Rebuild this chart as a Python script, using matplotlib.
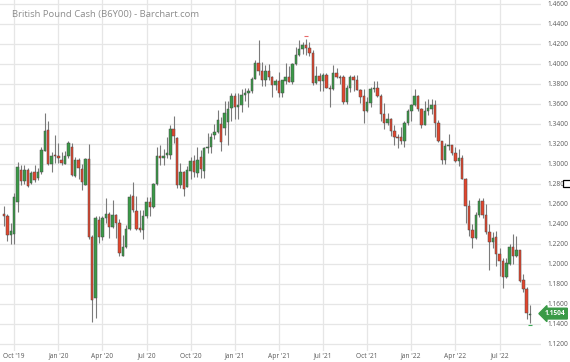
import matplotlib
matplotlib.use("Agg")
import matplotlib.pyplot as plt
import matplotlib.transforms as mtransforms
from matplotlib.patches import Rectangle
import pandas as pd

# ---------------- data (weekly OHLC, week of 2019-09-16 .. 2022-09-05) ----------------
opens = [1.2500, 1.2475, 1.2290, 1.2300, 1.2620, 1.2935, 1.2830, 1.2935, 1.2805, 1.2920,
         1.2855, 1.2915, 1.3135, 1.3340, 1.3000, 1.3085, 1.3080, 1.3035, 1.3000, 1.3075,
         1.3175, 1.2880, 1.3040, 1.2950, 1.2790, 1.3047, 1.2273, 1.1657, 1.2440, 1.2273,
         1.2457, 1.2497, 1.2373, 1.2490, 1.2407, 1.2080, 1.2173, 1.2350, 1.2680, 1.2530,
         1.2357, 1.2340, 1.2480, 1.2623, 1.2573, 1.2800, 1.3080, 1.3057, 1.3090, 1.3090,
         1.3347, 1.3257, 1.2790, 1.2923, 1.2773, 1.2933, 1.3030, 1.2913, 1.3067, 1.2933,
         1.3157, 1.3173, 1.3285, 1.3323, 1.3400, 1.3357, 1.3423, 1.3560, 1.3675, 1.3565,
         1.3590, 1.3685, 1.3705, 1.3730, 1.3850, 1.4010, 1.3925, 1.3840, 1.3925, 1.3865,
         1.3790, 1.3830, 1.3705, 1.3835, 1.3870, 1.3820, 1.3995, 1.4090, 1.4150, 1.4190,
         1.4160, 1.4110, 1.3805, 1.3880, 1.3830, 1.3890, 1.3760, 1.3755, 1.3905, 1.3870,
         1.3865, 1.3620, 1.3760, 1.3870, 1.3840, 1.3740, 1.3675, 1.3530, 1.3615, 1.3745,
         1.3760, 1.3680, 1.3500, 1.3410, 1.3450, 1.3335, 1.3270, 1.3265, 1.3235, 1.3405,
         1.3530, 1.3590, 1.3680, 1.3550, 1.3395, 1.3530, 1.3555, 1.3590, 1.3410, 1.3230,
         1.3040, 1.3180, 1.3185, 1.3110, 1.3030, 1.3060, 1.2850, 1.2575, 1.2340, 1.2255,
         1.2490, 1.2625, 1.2490, 1.2315, 1.2225, 1.2265, 1.2095, 1.2030, 1.1870, 1.2005,
         1.2165, 1.2075, 1.2135, 1.1840, 1.1750, 1.1490]
highs = [1.2582, 1.2500, 1.2410, 1.2710, 1.3015, 1.2990, 1.2990, 1.2955, 1.2925, 1.2985,
         1.2955, 1.3175, 1.3515, 1.3425, 1.3120, 1.3290, 1.3205, 1.3120, 1.3125, 1.3225,
         1.3210, 1.3070, 1.3060, 1.3000, 1.3060, 1.3200, 1.2290, 1.2480, 1.2480, 1.2485,
         1.2657, 1.2520, 1.2645, 1.2500, 1.2450, 1.2290, 1.2390, 1.2695, 1.2815, 1.2685,
         1.2545, 1.2545, 1.2670, 1.2670, 1.2805, 1.3170, 1.3185, 1.3145, 1.3265, 1.3395,
         1.3480, 1.3270, 1.3010, 1.2925, 1.2980, 1.3065, 1.3085, 1.3175, 1.3140, 1.3175,
         1.3310, 1.3310, 1.3400, 1.3540, 1.3470, 1.3625, 1.3625, 1.3705, 1.3705, 1.3710,
         1.3745, 1.3760, 1.3760, 1.3865, 1.4035, 1.4240, 1.4015, 1.3990, 1.4000, 1.3880,
         1.3850, 1.3920, 1.3840, 1.4010, 1.3980, 1.4005, 1.4165, 1.4235, 1.4220, 1.4250,
         1.4220, 1.4135, 1.3975, 1.3910, 1.3910, 1.3910, 1.3790, 1.3985, 1.3960, 1.3890,
         1.3890, 1.3790, 1.3890, 1.3890, 1.3890, 1.3750, 1.3750, 1.3675, 1.3775, 1.3835,
         1.3830, 1.3700, 1.3610, 1.3515, 1.3460, 1.3385, 1.3300, 1.3375, 1.3435, 1.3550,
         1.3600, 1.3750, 1.3690, 1.3560, 1.3630, 1.3645, 1.3645, 1.3640, 1.3440, 1.3235,
         1.3215, 1.3300, 1.3190, 1.3165, 1.3150, 1.3090, 1.2860, 1.2640, 1.2405, 1.2525,
         1.2665, 1.2665, 1.2600, 1.2405, 1.2325, 1.2330, 1.2160, 1.2060, 1.2065, 1.2195,
         1.2295, 1.2275, 1.2145, 1.1900, 1.1765, 1.1590]
lows = [1.2383, 1.2230, 1.2195, 1.2195, 1.2520, 1.2790, 1.2800, 1.2770, 1.2800, 1.2815,
        1.2835, 1.2900, 1.3125, 1.2990, 1.2915, 1.3010, 1.3005, 1.2985, 1.2995, 1.3060,
        1.2875, 1.2870, 1.2850, 1.2735, 1.2785, 1.2250, 1.1423, 1.1457, 1.2207, 1.2245,
        1.2410, 1.2257, 1.2355, 1.2265, 1.2075, 1.2075, 1.2165, 1.2340, 1.2525, 1.2335,
        1.2325, 1.2250, 1.2460, 1.2480, 1.2560, 1.2790, 1.2985, 1.2985, 1.3060, 1.3050,
        1.3215, 1.2760, 1.2760, 1.2675, 1.2770, 1.2850, 1.2865, 1.2865, 1.2855, 1.2855,
        1.3105, 1.3110, 1.3255, 1.3310, 1.3135, 1.3290, 1.3188, 1.3430, 1.3450, 1.3450,
        1.3520, 1.3625, 1.3565, 1.3710, 1.3845, 1.3890, 1.3780, 1.3780, 1.3840, 1.3670,
        1.3740, 1.3670, 1.3670, 1.3800, 1.3820, 1.3800, 1.3990, 1.4075, 1.4100, 1.4085,
        1.4075, 1.3785, 1.3800, 1.3735, 1.3730, 1.3760, 1.3570, 1.3740, 1.3860, 1.3800,
        1.3600, 1.3600, 1.3720, 1.3725, 1.3740, 1.3610, 1.3410, 1.3520, 1.3570, 1.3720,
        1.3670, 1.3425, 1.3355, 1.3390, 1.3280, 1.3195, 1.3160, 1.3200, 1.3170, 1.3390,
        1.3430, 1.3580, 1.3530, 1.3360, 1.3390, 1.3490, 1.3500, 1.3270, 1.3220, 1.3000,
        1.3000, 1.3140, 1.3090, 1.3020, 1.2975, 1.2845, 1.2410, 1.2275, 1.2155, 1.2250,
        1.2470, 1.2460, 1.2300, 1.1935, 1.2160, 1.1975, 1.1875, 1.1760, 1.1860, 1.1990,
        1.2000, 1.2070, 1.1820, 1.1715, 1.1445, 1.1405]
closes = [1.2475, 1.2290, 1.2330, 1.2670, 1.2970, 1.2830, 1.2935, 1.2775, 1.2905, 1.2835,
          1.2915, 1.3140, 1.3325, 1.3000, 1.3080, 1.3075, 1.3057, 1.3010, 1.3075, 1.3205,
          1.2890, 1.3040, 1.2957, 1.2823, 1.3047, 1.2273, 1.1640, 1.2457, 1.2273, 1.2457,
          1.2500, 1.2373, 1.2490, 1.2407, 1.2107, 1.2167, 1.2350, 1.2673, 1.2540, 1.2350,
          1.2340, 1.2480, 1.2623, 1.2573, 1.2800, 1.3080, 1.3057, 1.3080, 1.3107, 1.3347,
          1.3280, 1.2790, 1.2923, 1.2747, 1.2940, 1.3030, 1.2923, 1.3040, 1.2947, 1.3157,
          1.3173, 1.3273, 1.3320, 1.3440, 1.3223, 1.3513, 1.3550, 1.3675, 1.3565, 1.3590,
          1.3685, 1.3705, 1.3730, 1.3845, 1.4010, 1.3925, 1.3840, 1.3925, 1.3865, 1.3795,
          1.3830, 1.3705, 1.3835, 1.3870, 1.3820, 1.3995, 1.4090, 1.4150, 1.4190, 1.4160,
          1.4110, 1.3805, 1.3880, 1.3830, 1.3890, 1.3760, 1.3755, 1.3905, 1.3870, 1.3865,
          1.3620, 1.3760, 1.3870, 1.3840, 1.3740, 1.3675, 1.3530, 1.3615, 1.3745, 1.3760,
          1.3680, 1.3500, 1.3410, 1.3450, 1.3335, 1.3270, 1.3265, 1.3235, 1.3405, 1.3530,
          1.3590, 1.3680, 1.3550, 1.3395, 1.3530, 1.3555, 1.3590, 1.3410, 1.3230, 1.3040,
          1.3180, 1.3185, 1.3110, 1.3030, 1.3060, 1.2850, 1.2575, 1.2340, 1.2255, 1.2490,
          1.2625, 1.2490, 1.2315, 1.2225, 1.2265, 1.2095, 1.2030, 1.1870, 1.2005, 1.2165,
          1.2075, 1.2135, 1.1830, 1.1750, 1.1510, 1.1504]
week_start = pd.date_range("2019-09-16", periods=len(closes), freq="W-MON")
y_ticks = [1.12, 1.14, 1.16, 1.18, 1.20, 1.22, 1.24, 1.26, 1.28, 1.30,
           1.32, 1.34, 1.36, 1.38, 1.40, 1.42, 1.44, 1.46]
quarter_months = [1, 4, 7, 10]
last_price = closes[-1]
title = "British Pound Cash (B6Y00) - Barchart.com"

# ---------------- style ----------------
UP = "#3a9a47"
DOWN = "#e2462d"
EDGE = "#4a4a4a"
WICK = "#7a7a7a"
GRID = "#e6e6e6"
TXT = "#5a5a5a"
plt.rcParams["font.family"] = ["Open Sans", "DejaVu Sans"]

W, H = 570, 362
fig = plt.figure(figsize=(W / 100, H / 100), dpi=100)
ax = fig.add_axes([0, 11 / H, 541 / W, 351 / H])

idx = list(range(len(closes)))
for i in idx:
    o, h, l, c = opens[i], highs[i], lows[i], closes[i]
    ax.vlines(i, l, h, color=WICK, lw=0.8, zorder=2)
    col = UP if c >= o else DOWN
    body = max(abs(c - o), 0.0009)
    ax.bar(i, body, bottom=min(o, c) if abs(c - o) >= 0.0009 else (o + c) / 2 - 0.00045,
           width=0.72, color=col, edgecolor=EDGE, linewidth=0.35, zorder=3)

# high / low markers
hi_i = max(idx, key=lambda k: highs[k])
ax.plot(hi_i, highs[hi_i] + 0.0025, marker="_", ms=3.5, mew=0.8, color="#e86a6a", zorder=4)
ax.plot(idx[-1], lows[-1] - 0.0018, marker="_", ms=3.5, mew=0.8, color="#3aaa55", zorder=4)

# x ticks: first weekly bar of each quarter month
xt, xl = [], []
for i, d in enumerate(week_start):
    if d.month in quarter_months and (i == 0 or week_start[i - 1].month != d.month):
        xt.append(i)
        xl.append(d.strftime("%b '%y"))

ax.set_xlim(-4 / 3.394, (541 - 4) / 3.394)
ax.set_ylim(1.113, 1.464)
ax.set_xticks(xt)
ax.set_xticklabels(xl)
ax.set_yticks(y_ticks)
ax.set_yticklabels([f"{v:.4f}" for v in y_ticks])
ax.yaxis.tick_right()
ax.tick_params(axis="y", length=0, pad=5, labelsize=4.8, labelcolor=TXT)
ax.tick_params(axis="x", length=0, pad=1.2, labelsize=4.8, labelcolor=TXT)
ax.grid(True, color=GRID, lw=0.9, zorder=0)
ax.set_axisbelow(True)
for s in ax.spines.values():
    s.set_visible(False)

# last price tag
tr = mtransforms.blended_transform_factory(ax.transAxes, ax.transData)
ax.text(1.007, last_price, f"{last_price:.4f}", transform=tr, ha="left", va="center",
        fontsize=4.8, fontweight="bold", color="white", clip_on=False, zorder=6,
        bbox=dict(boxstyle="larrow,pad=0.28", fc=UP, ec=UP))

# title
fig.text(12 / W, 1 - 15 / H, title, fontsize=6.8, color="#8c8c8c", va="center", ha="left")

# small square marker at right edge
fig.patches.append(Rectangle((563 / W, 1 - 187 / H), 8 / W, 7 / H, transform=fig.transFigure,
                             fc="white", ec="black", lw=0.9, zorder=10))

fig.savefig("out.png", dpi=100)
